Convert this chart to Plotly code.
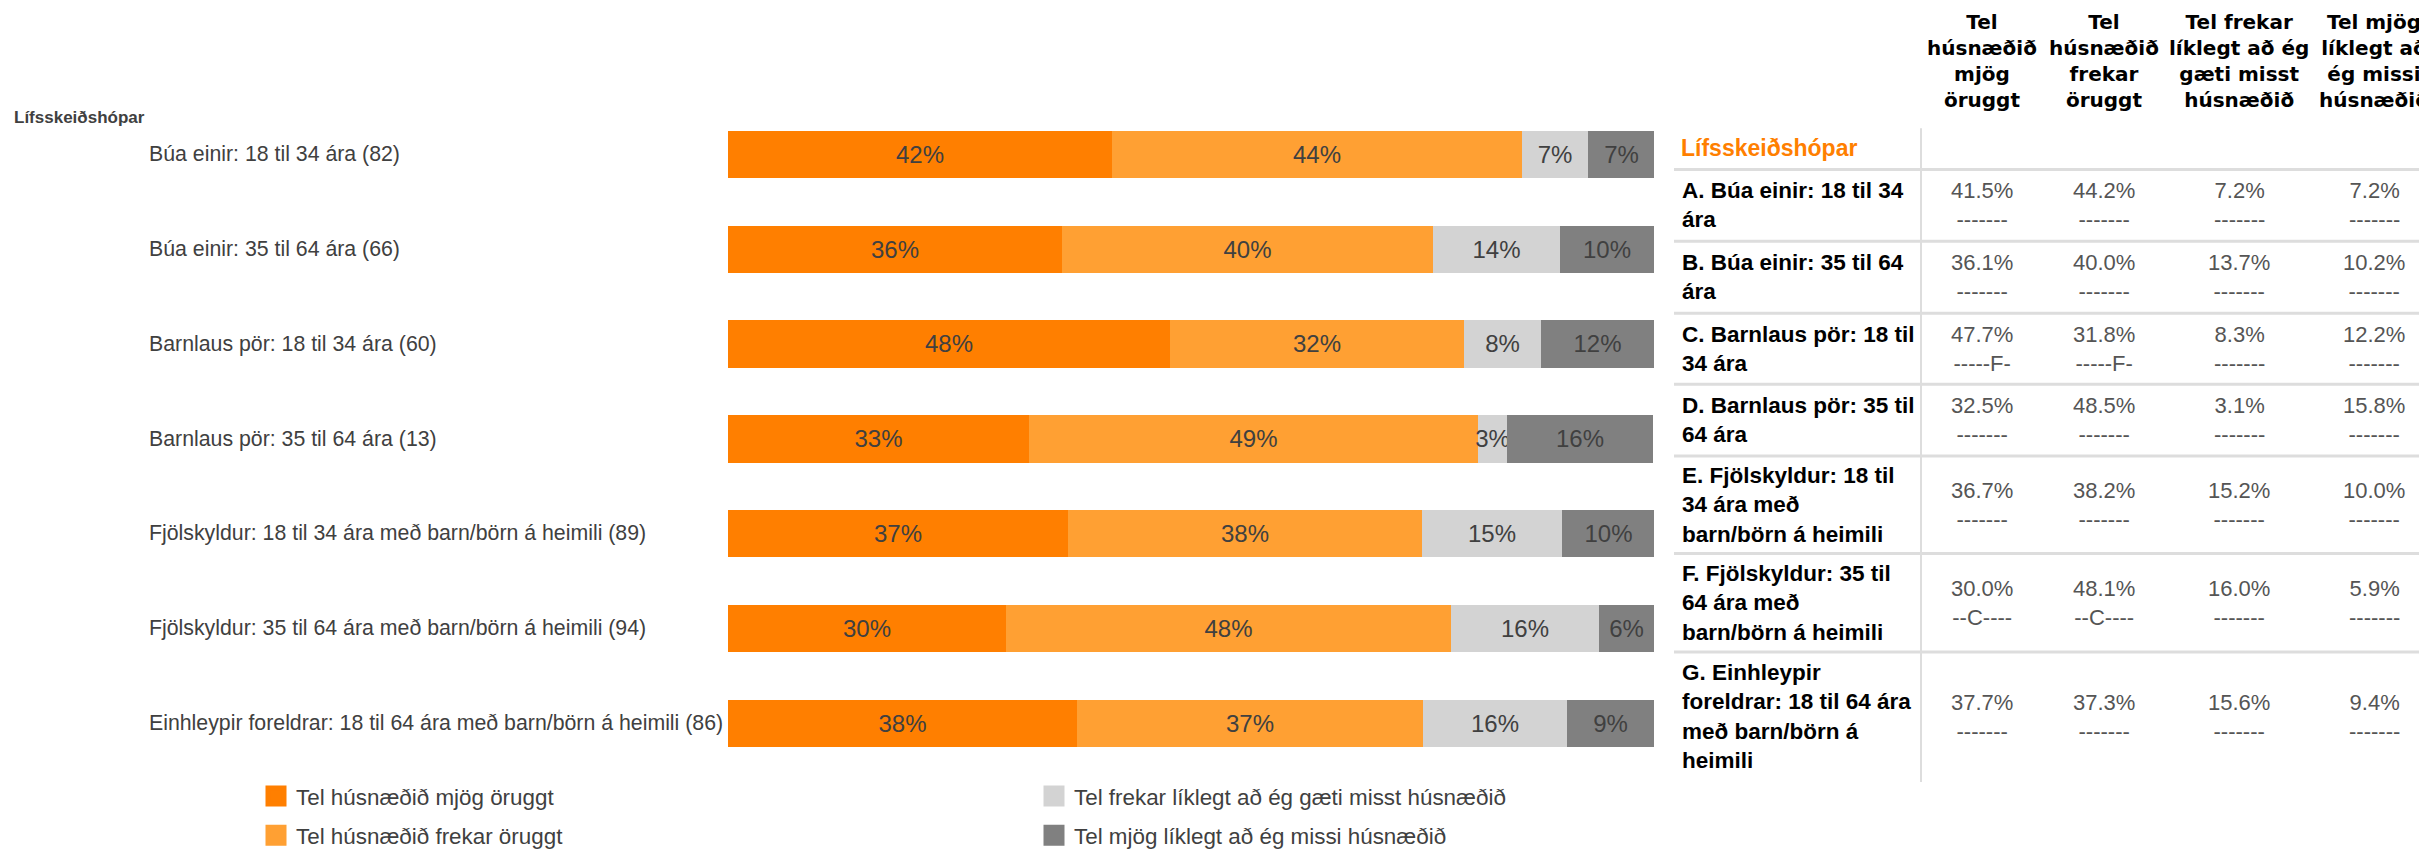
import plotly.graph_objects as go

# ---------------- data ----------------
groups = [
    "Búa einir: 18 til 34 ára (82)",
    "Búa einir: 35 til 64 ára (66)",
    "Barnlaus pör: 18 til 34 ára (60)",
    "Barnlaus pör: 35 til 64 ára (13)",
    "Fjölskyldur: 18 til 34 ára með barn/börn á heimili (89)",
    "Fjölskyldur: 35 til 64 ára með barn/börn á heimili (94)",
    "Einhleypir foreldrar: 18 til 64 ára með barn/börn á heimili (86)",
]
table_rows = [
    "A. Búa einir: 18 til 34<br>ára",
    "B. Búa einir: 35 til 64<br>ára",
    "C. Barnlaus pör: 18 til<br>34 ára",
    "D. Barnlaus pör: 35 til<br>64 ára",
    "E. Fjölskyldur: 18 til<br>34 ára með<br>barn/börn á heimili",
    "F. Fjölskyldur: 35 til<br>64 ára með<br>barn/börn á heimili",
    "G. Einhleypir<br>foreldrar: 18 til 64 ára<br>með barn/börn á<br>heimili",
]
series_names = [
    "Tel húsnæðið mjög öruggt",
    "Tel húsnæðið frekar öruggt",
    "Tel frekar líklegt að ég gæti misst húsnæðið",
    "Tel mjög líklegt að ég missi húsnæðið",
]
table_headers = [
    "Tel<br>húsnæðið<br>mjög<br>öruggt",
    "Tel<br>húsnæðið<br>frekar<br>öruggt",
    "Tel frekar<br>líklegt að ég<br>gæti misst<br>húsnæðið",
    "Tel mjög<br>líklegt að<br>ég missi<br>húsnæðið",
]
v_mjog_oruggt = [41.5, 36.1, 47.7, 32.5, 36.7, 30.0, 37.7]
v_frekar_oruggt = [44.2, 40.0, 31.8, 48.5, 38.2, 48.1, 37.3]
v_frekar_liklegt = [7.2, 13.7, 8.3, 3.1, 15.2, 16.0, 15.6]
v_mjog_liklegt = [7.2, 10.2, 12.2, 15.8, 10.0, 5.9, 9.4]
sig_mjog_oruggt = ["-------", "-------", "-----F-", "-------", "-------", "--C----", "-------"]
sig_frekar_oruggt = ["-------", "-------", "-----F-", "-------", "-------", "--C----", "-------"]
sig_frekar_liklegt = ["-------"] * 7
sig_mjog_liklegt = ["-------"] * 7
axis_title = "Lífsskeiðshópar"

series_values = [v_mjog_oruggt, v_frekar_oruggt, v_frekar_liklegt, v_mjog_liklegt]
series_sig = [sig_mjog_oruggt, sig_frekar_oruggt, sig_frekar_liklegt, sig_mjog_liklegt]

# ---------------- style / layout ----------------
W, H = 2427, 849
OFF = 8  # page body margin
colors = ["#FF7F00", "#FFA033", "#D3D3D3", "#808080"]
FONT = "Arial, Liberation Sans, sans-serif"
HEAD_FONT = "DejaVu Sans, Arial, sans-serif"
TXT = "#404040"


def px(x):
    return (x - OFF) / W


def py(y):
    return 1 - (y - OFF) / H


bar_left, bar_right = 728, 1654
row_top, row_bottom = 108.2, 782.4

fig = go.Figure()
for i, (name, vals) in enumerate(zip(series_names, series_values)):
    fig.add_trace(go.Bar(
        orientation="h",
        x=vals,
        y=groups,
        name=name,
        marker=dict(color=colors[i], line=dict(width=0)),
        width=0.5,
        text=[f"{int(v + 0.5)}%" for v in vals],
        textposition="inside",
        insidetextanchor="middle",
        constraintext="none",
        textangle=0,
        textfont=dict(family=FONT, size=24, color=TXT),
        showlegend=False,
        hoverinfo="x+y+name",
    ))

# legend entries
for i, name in enumerate(series_names):
    fig.add_trace(go.Scatter(
        x=[None], y=[None], mode="markers",
        marker=dict(symbol="square", size=26, color=colors[i],
                    line=dict(color=colors[i], width=5)),
        name=name,
        legend="legend" if i < 2 else "legend2",
        legendgroup=f"g{i}",
        showlegend=True,
    ))

legend_common = dict(
    orientation="v", xanchor="left", yanchor="top",
    font=dict(family=FONT, size=22.4, color=TXT),
    bgcolor="rgba(0,0,0,0)", tracegroupgap=7, itemsizing="trace",
)

annotations = []
shapes = []

# category labels, left aligned
for g in groups:
    annotations.append(dict(
        x=px(147), y=g, xref="paper", yref="y", xanchor="left", yanchor="middle",
        text=g, showarrow=False, font=dict(family=FONT, size=21.3, color=TXT),
    ))

# small axis title top-left
annotations.append(dict(
    x=px(12), y=py(119), xref="paper", yref="paper", xanchor="left", yanchor="middle",
    text=f"<b>{axis_title}</b>", showarrow=False,
    font=dict(family=FONT, size=17, color=TXT),
))

# ---------- table ----------
tbl_left = 1674
lbl_x = 1680
vline_x = 1921
col_centers = [1982, 2104, 2239, 2374]
seps = [172, 245, 318, 390, 463, 562, 662, 794]
vline_top = 130
header_center = 62
TBL_FONT = 22

for j, htxt in enumerate(table_headers):
    annotations.append(dict(
        x=px(col_centers[j]), y=py(header_center), xref="paper", yref="paper",
        xanchor="center", yanchor="middle", align="center",
        text=f"<b>{htxt}</b>", showarrow=False,
        font=dict(family=HEAD_FONT, size=20, color="#000000"),
    ))

annotations.append(dict(
    x=px(lbl_x - 1), y=py(150), xref="paper", yref="paper",
    xanchor="left", yanchor="middle", align="left",
    text=f"<b>{axis_title}</b>", showarrow=False,
    font=dict(family=FONT, size=23, color="#FF7F00"),
))

for r, lbl in enumerate(table_rows):
    yc = (seps[r] + seps[r + 1]) / 2
    annotations.append(dict(
        x=px(lbl_x), y=py(yc), xref="paper", yref="paper",
        xanchor="left", yanchor="middle", align="left",
        text=f"<b>{lbl}</b>", showarrow=False,
        font=dict(family=FONT, size=22.5, color="#000000"),
    ))
    for j in range(4):
        annotations.append(dict(
            x=px(col_centers[j]), y=py(yc), xref="paper", yref="paper",
            xanchor="center", yanchor="middle", align="center",
            text=f"{series_values[j][r]:.1f}%<br>{series_sig[j][r]}", showarrow=False,
            font=dict(family=FONT, size=TBL_FONT, color="#555555"),
        ))

for s in seps[:-1]:
    shapes.append(dict(
        type="line", xref="paper", yref="paper",
        x0=px(tbl_left), x1=1, y0=py(s), y1=py(s),
        line=dict(color="#DDDDDD", width=3),
    ))
shapes.append(dict(
    type="line", xref="paper", yref="paper",
    x0=px(vline_x), x1=px(vline_x), y0=py(vline_top), y1=py(seps[-1]),
    line=dict(color="#DDDDDD", width=2),
))

fig.update_layout(
    width=W, height=H,
    margin=dict(l=0, r=0, t=0, b=0),
    barmode="stack",
    bargap=0,
    paper_bgcolor="white",
    plot_bgcolor="white",
    font=dict(family=FONT, color=TXT),
    xaxis=dict(domain=[px(bar_left), px(bar_right)], range=[0, 100],
               visible=False, fixedrange=True),
    yaxis=dict(domain=[py(row_bottom), py(row_top)],
               range=[len(groups) - 0.5, -0.5],
               categoryorder="array", categoryarray=groups,
               showgrid=False, zeroline=False, showline=False, ticks="",
               showticklabels=False, fixedrange=True),
    legend=dict(x=px(256), y=py(787), **legend_common),
    legend2=dict(x=px(1034), y=py(787), **legend_common),
    annotations=annotations,
    shapes=shapes,
    showlegend=True,
)

fig.write_html("out.html")
